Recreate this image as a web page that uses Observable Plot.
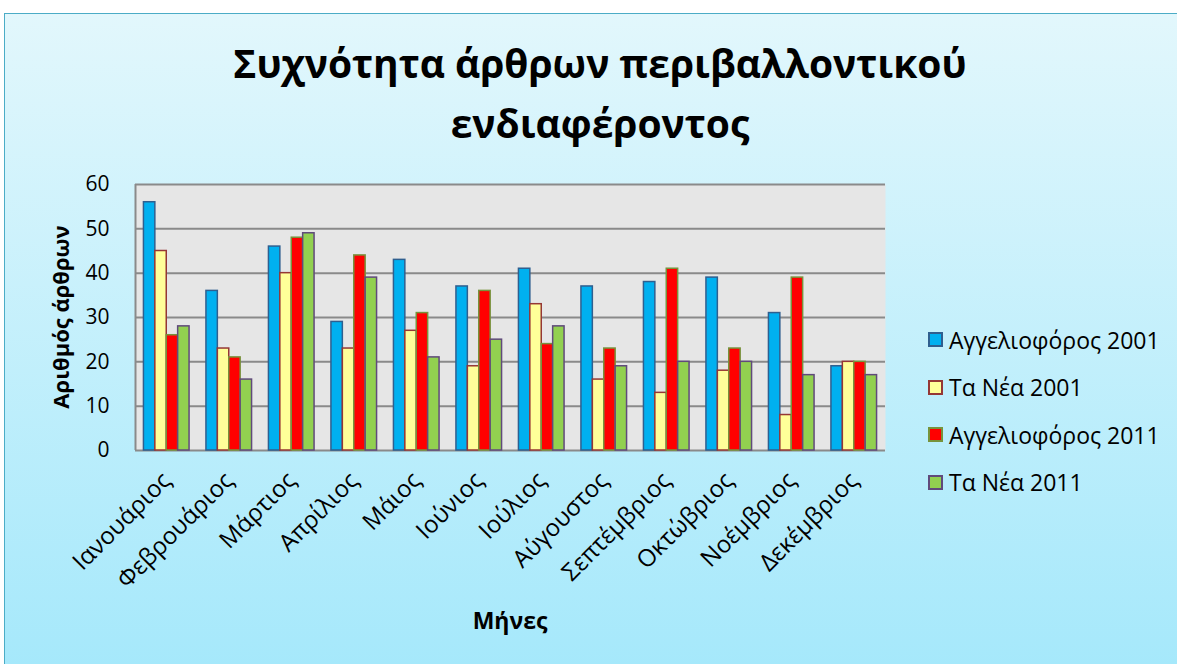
<!DOCTYPE html>
<html><head><meta charset="utf-8">
<script src="https://cdn.jsdelivr.net/npm/d3@7"></script>
<script src="https://cdn.jsdelivr.net/npm/@observablehq/plot@0.6"></script>
<style>
body{margin:0;background:#fff;font-family:"Open Sans",sans-serif;}
#wrap{position:relative;width:1177px;height:664px;overflow:hidden;}
#bg{position:absolute;left:4px;top:13px;width:1190px;height:670px;border:1px solid #4bacc6;background:linear-gradient(#e2f7fc,#a4e8fb);}
#title{position:absolute;left:0;width:1200px;top:33px;text-align:center;font-weight:bold;font-size:39px;line-height:60px;color:#000;}
#chart{position:absolute;left:0;top:0;}
#ylabel{position:absolute;left:60px;top:317px;transform:translate(-50%,-50%) rotate(-90deg);font-weight:bold;font-size:22px;white-space:nowrap;}
#xlabel{position:absolute;left:510px;top:620px;transform:translate(-50%,-50%);font-weight:bold;font-size:23px;}
#legend{position:absolute;left:928px;top:316px;}
.li{display:flex;align-items:center;height:47.5px;font-size:23px;}
.sw{width:11px;height:11px;border:2px solid;margin-right:6px;}
</style></head>
<body>
<div id="wrap">
<div id="bg"></div>
<div id="title">Συχνότητα άρθρων περιβαλλοντικού<br>ενδιαφέροντος</div>
<div id="chart"></div>
<div id="ylabel">Αριθμός άρθρων</div>
<div id="xlabel">Μήνες</div>
<div id="legend"></div>
</div>
<script>
const months = ["Ιανουάριος","Φεβρουάριος","Μάρτιος","Απρίλιος","Μάιος","Ιούνιος","Ιούλιος","Αύγουστος","Σεπτέμβριος","Οκτώβριος","Νοέμβριος","Δεκέμβριος"];
const seriesNames = ["Αγγελιοφόρος 2001","Τα Νέα 2001","Αγγελιοφόρος 2011","Τα Νέα 2011"];
const aggelioforos2001 = [56,36,46,29,43,37,41,37,38,39,31,19];
const taNea2001 = [45,23,40,23,27,19,33,16,13,18,8,20];
const aggelioforos2011 = [26,21,48,44,31,36,24,23,41,23,39,20];
const taNea2011 = [28,16,49,39,21,25,28,19,20,20,17,17];
const yTicks = [0,10,20,30,40,50,60];
const fills = ["#00b0f0","#ffff99","#ff0000","#92d050"];
const strokes = ["#2f5f8f","#953735","#77933c","#604a7b"];

const seriesValues = [aggelioforos2001, taNea2001, aggelioforos2011, taNea2011];
// group occupies 73% of each month's band; four adjacent bars
const groupW = 0.73, barW = groupW / seriesNames.length;
const data = [];
months.forEach((m,i)=>seriesValues.forEach((vals,s)=>data.push({
  i, month:m, series:seriesNames[s], value:vals[i], s,
  x1: i - groupW/2 + s*barW, x2: i - groupW/2 + (s+1)*barW
})));
const xDomain = [-0.5, months.length-0.5];

const chart = Plot.plot({
  width:1177, height:664,
  marginLeft:135, marginRight:292, marginTop:184, marginBottom:214,
  style:{background:"transparent", fontFamily:"Open Sans", fontSize:"20px", color:"#000", overflow:"visible"},
  x:{type:"linear", domain:xDomain},
  y:{domain:[0,60]},
  marks:[
    Plot.frame({fill:"#e6e6e6", stroke:"none"}),
    Plot.ruleY(yTicks, {stroke:"#8a8a8a", strokeWidth:2}),
    Plot.ruleX([xDomain[0]], {stroke:"#8a8a8a", strokeWidth:2}),
    Plot.rectY(data, {x1:"x1", x2:"x2", y:"value", fill:d=>fills[d.s], stroke:d=>strokes[d.s], strokeWidth:1.5}),
    Plot.axisY({ticks:yTicks, tickSize:0, tickPadding:26, fontSize:21, label:null}),
    Plot.axisX({ticks:d3.range(months.length), tickFormat:i=>months[i], tickRotate:-45, tickSize:0, tickPadding:26, fontSize:24, label:null})
  ]
});
document.getElementById("chart").appendChild(chart);

const lg = document.getElementById("legend");
seriesNames.forEach((n,i)=>{
  const d = document.createElement("div"); d.className="li";
  d.innerHTML = `<span class="sw" style="background:${fills[i]};border-color:${strokes[i]}"></span><span>${n}</span>`;
  lg.appendChild(d);
});
</script>
</body></html>
